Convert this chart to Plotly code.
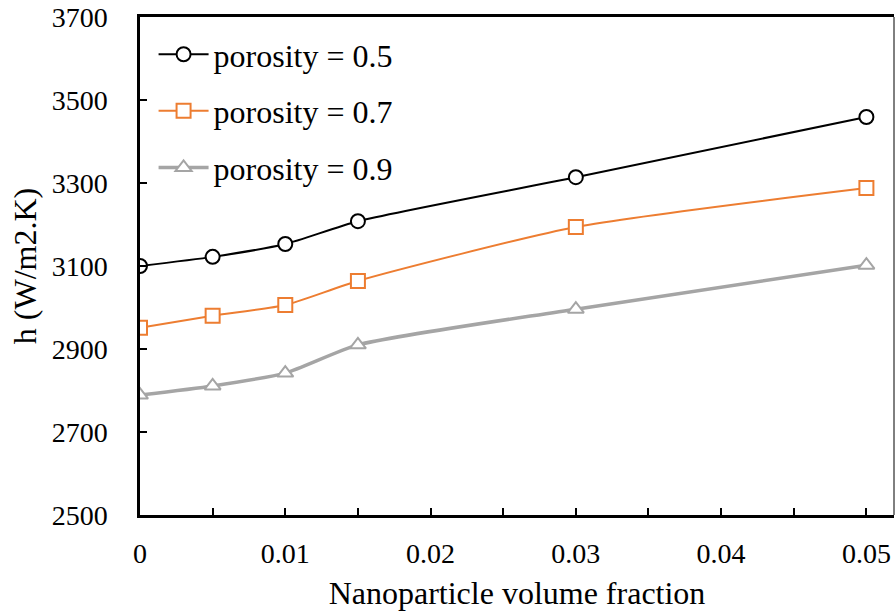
import plotly.graph_objects as go

x_vals = [0, 0.005, 0.01, 0.015, 0.03, 0.05]
h_p05 = [3100, 3122, 3153, 3208, 3314, 3459]
h_p07 = [2951, 2980, 3006, 3064, 3194, 3288]
h_p09 = [2789, 2811, 2842, 2910, 2996, 3102]
names = ["porosity = 0.5", "porosity = 0.7", "porosity = 0.9"]

FONT = "Liberation Serif"

fig = go.Figure()
fig.add_trace(go.Scatter(x=x_vals, y=h_p05, name=names[0], mode="lines+markers", legendgroup="a",
                         line=dict(color="black", width=2, shape="spline", smoothing=0.6),
                         marker=dict(symbol="circle", size=14, color="white",
                                     line=dict(color="black", width=2))))
fig.add_trace(go.Scatter(x=x_vals, y=h_p07, name=names[1], mode="lines+markers", legendgroup="b",
                         line=dict(color="#ED7D31", width=2, shape="spline", smoothing=0.6),
                         marker=dict(symbol="square", size=14, color="white",
                                     line=dict(color="#ED7D31", width=2))))
fig.add_trace(go.Scatter(x=x_vals, y=h_p09, name=names[2], mode="lines+markers", legendgroup="c",
                         line=dict(color="#A5A5A5", width=3.5, shape="spline", smoothing=0.6),
                         marker=dict(symbol="triangle-up", size=14, color="white",
                                     line=dict(color="#A5A5A5", width=2))))

fig.update_layout(
    width=895, height=614,
    margin=dict(l=140, r=1, t=17, b=99),
    paper_bgcolor="white", plot_bgcolor="white",
    font=dict(family=FONT, size=28, color="black"),
    showlegend=True,
    legend=dict(x=0.018, y=0.98, xanchor="left", yanchor="top",
                font=dict(family=FONT, size=32, color="black"),
                bgcolor="rgba(0,0,0,0)", tracegroupgap=12, itemwidth=50),
    xaxis=dict(range=[0, 0.0519], dtick=0.01, tick0=0, showgrid=False, zeroline=False,
               showline=True, linecolor="black", linewidth=2.5, mirror=True,
               ticks="inside", ticklen=7, tickwidth=2, tickcolor="black",
               minor=dict(dtick=0.005, ticks="inside", ticklen=7, tickwidth=2, tickcolor="black"),
               tickfont=dict(family=FONT, size=28), ticklabelstandoff=12,
               title=dict(text="Nanoparticle volume fraction", font=dict(family=FONT, size=32), standoff=14)),
    yaxis=dict(range=[2500, 3700], dtick=200, tick0=2500, showgrid=False, zeroline=False,
               showline=True, linecolor="black", linewidth=2.5,
               ticks="inside", ticklen=7, tickwidth=2, tickcolor="black",
               tickfont=dict(family=FONT, size=28), ticklabelstandoff=24,
               title=dict(text="h (W/m2.K)", font=dict(family=FONT, size=32), standoff=6)),
)
fig.add_shape(type="line", xref="paper", yref="paper", x0=1, x1=1, y0=0, y1=1,
              line=dict(color="black", width=1))

fig.write_html("out.html")
